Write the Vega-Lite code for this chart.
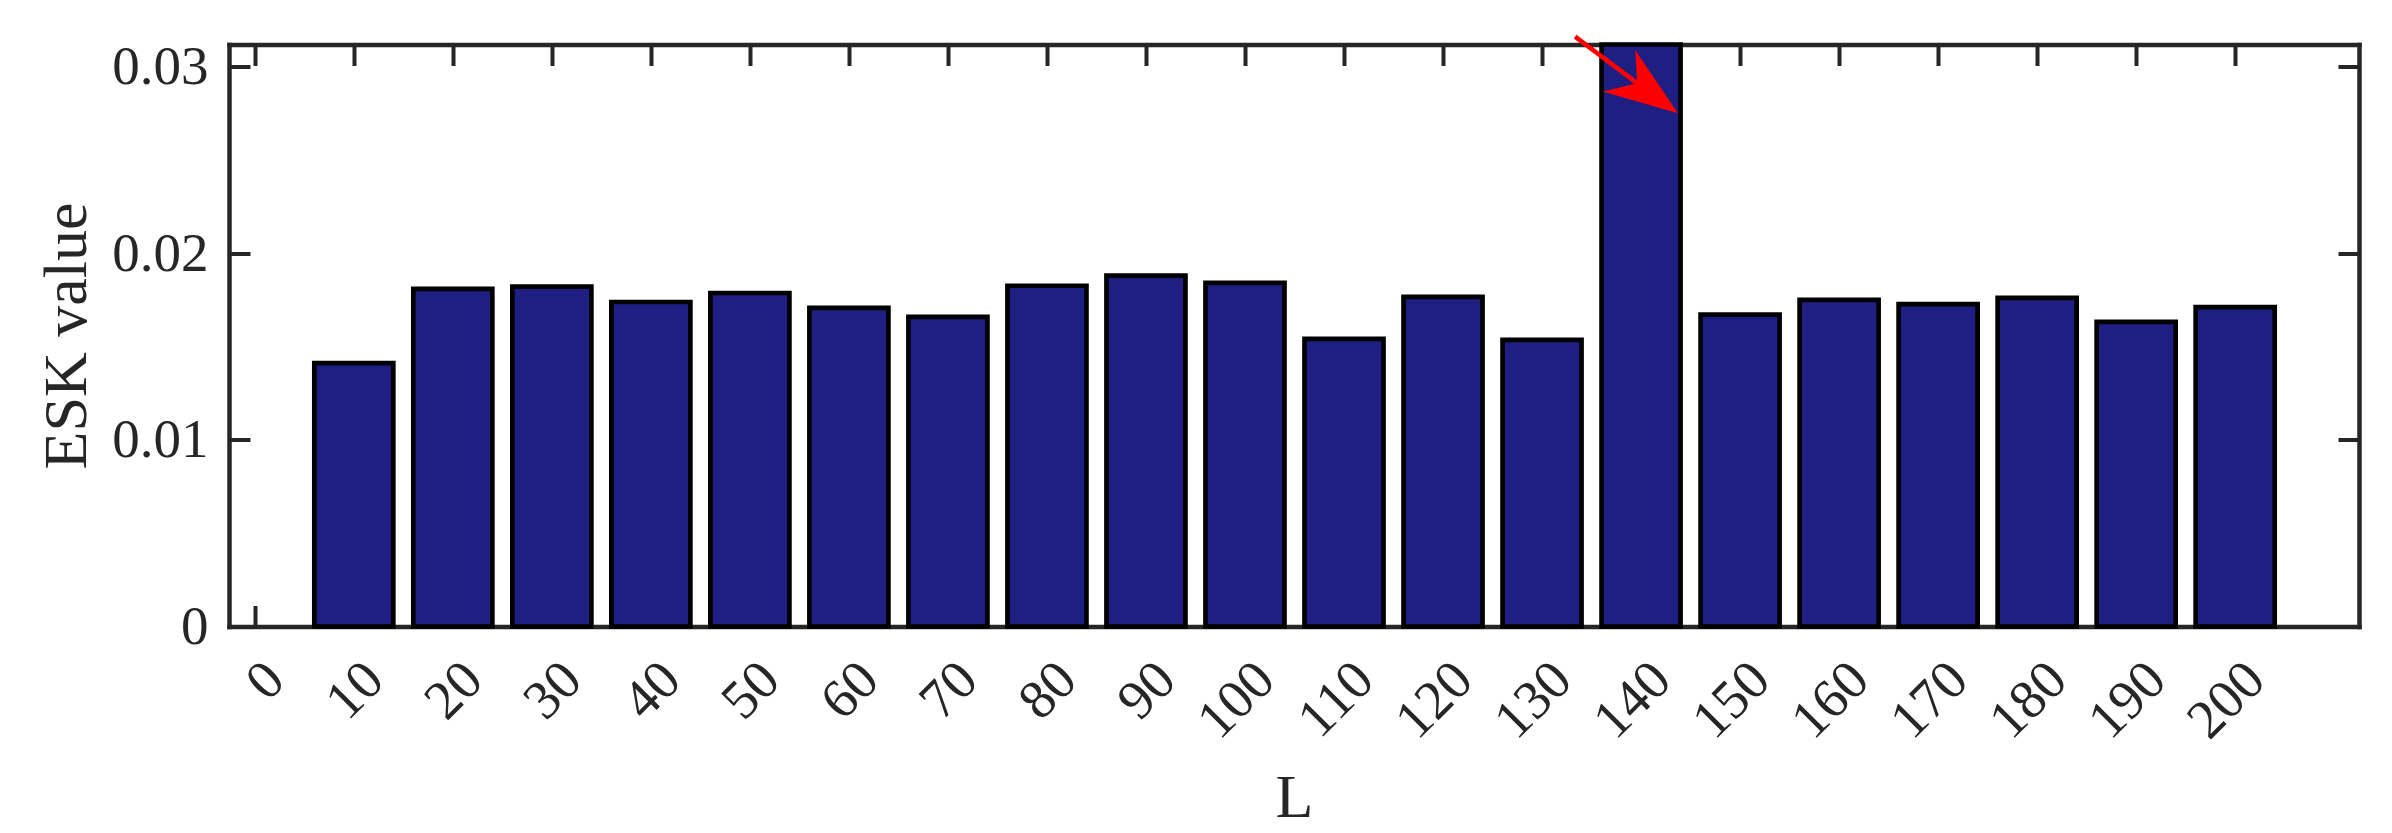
{
  "$schema": "https://vega.github.io/schema/vega-lite/v6.json",
  "width": 2130,
  "height": 582,
  "autosize": "none",
  "padding": {"left": 229, "top": 44.5, "right": 33, "bottom": 206.5},
  "background": "white",
  "config": {
    "view": {"stroke": null},
    "font": "Liberation Serif",
    "axis": {
      "grid": false,
      "domainColor": "#262626",
      "domainWidth": 4.5,
      "domainCap": "square",
      "tickColor": "#262626",
      "tickWidth": 4,
      "tickSize": -21,
      "labelFont": "Liberation Serif",
      "labelFontSize": 55,
      "labelColor": "#262626",
      "titleFont": "Liberation Serif",
      "titleFontSize": 62,
      "titleFontWeight": "normal",
      "titleColor": "#262626",
      "labelOverlap": false,
      "labelFlush": false,
      "labelBound": false
    }
  },
  "datasets": {
    "esk": [
      {"L": 10, "ESK": 0.01411},
      {"L": 20, "ESK": 0.01808},
      {"L": 30, "ESK": 0.0182},
      {"L": 40, "ESK": 0.01738},
      {"L": 50, "ESK": 0.01786},
      {"L": 60, "ESK": 0.01706},
      {"L": 70, "ESK": 0.01658},
      {"L": 80, "ESK": 0.01825},
      {"L": 90, "ESK": 0.01879},
      {"L": 100, "ESK": 0.0184},
      {"L": 110, "ESK": 0.0154},
      {"L": 120, "ESK": 0.01765},
      {"L": 130, "ESK": 0.01535},
      {"L": 140, "ESK": 0.03117},
      {"L": 150, "ESK": 0.0167},
      {"L": 160, "ESK": 0.01749},
      {"L": 170, "ESK": 0.01727},
      {"L": 180, "ESK": 0.0176},
      {"L": 190, "ESK": 0.01631},
      {"L": 200, "ESK": 0.01711}
    ],
    "arrow": [
      {"x": 133.34, "y": 0.03159, "x2": 139.63, "y2": 0.02909, "tipx": 143.72, "tipy": 0.02749}
    ]
  },
  "layer": [
    {
      "data": {"name": "esk"},
      "mark": {"type": "bar", "size": 79, "fill": "#1f1e82", "stroke": "#000000", "strokeWidth": 4.7},
      "encoding": {
        "x": {
          "field": "L", "type": "quantitative",
          "scale": {"domain": [-2.1, 212], "nice": false, "zero": false},
          "axis": {
            "orient": "bottom",
            "values": [0, 10, 20, 30, 40, 50, 60, 70, 80, 90, 100, 110, 120, 130, 140, 150, 160, 170, 180, 190, 200],
            "labelAngle": -45,
            "labelAlign": "right",
            "labelBaseline": "middle",
            "labelPadding": 65,
            "labelOffset": 20,
            "title": "L",
            "titleX": 1065,
            "titleY": 190,
            "titleBaseline": "alphabetic",
            "titleAlign": "center"
          }
        },
        "y": {
          "field": "ESK", "type": "quantitative",
          "scale": {"domain": [0, 0.03117], "nice": false},
          "axis": {
            "orient": "left",
            "values": [0, 0.01, 0.02, 0.03],
            "format": ".2~f",
            "labelPadding": 42,
            "title": "ESK value",
            "titleX": -144,
            "titleY": 291,
            "titleAngle": -90,
            "titleBaseline": "alphabetic",
            "titleAlign": "center"
          }
        }
      }
    },
    {
      "data": {"name": "arrow"},
      "mark": {"type": "rule", "color": "#ff0000", "strokeWidth": 4.5, "strokeCap": "butt"},
      "encoding": {
        "x": {
          "field": "x", "type": "quantitative",
          "scale": {"domain": [-2.1, 212], "nice": false, "zero": false},
          "axis": {
            "orient": "top",
            "values": [0, 10, 20, 30, 40, 50, 60, 70, 80, 90, 100, 110, 120, 130, 140, 150, 160, 170, 180, 190, 200],
            "labels": false,
            "title": null
          }
        },
        "y": {
          "field": "y", "type": "quantitative",
          "scale": {"domain": [0, 0.03117], "nice": false},
          "axis": {
            "orient": "right",
            "values": [0, 0.01, 0.02, 0.03],
            "labels": false,
            "title": null
          }
        },
        "x2": {"field": "x2"},
        "y2": {"field": "y2"}
      }
    },
    {
      "data": {"name": "arrow"},
      "mark": {"type": "point", "shape": "M0,0L-42.7,-63.3L-40.7,-30L-75,-21.6Z", "size": 4, "filled": true, "color": "#ff0000", "strokeWidth": 0, "opacity": 1},
      "encoding": {
        "x": {"field": "tipx", "type": "quantitative", "scale": {"domain": [-2.1, 212], "nice": false, "zero": false}, "axis": null},
        "y": {"field": "tipy", "type": "quantitative", "scale": {"domain": [0, 0.03117], "nice": false}, "axis": null}
      }
    }
  ],
  "resolve": {"axis": {"x": "independent", "y": "independent"}}
}
